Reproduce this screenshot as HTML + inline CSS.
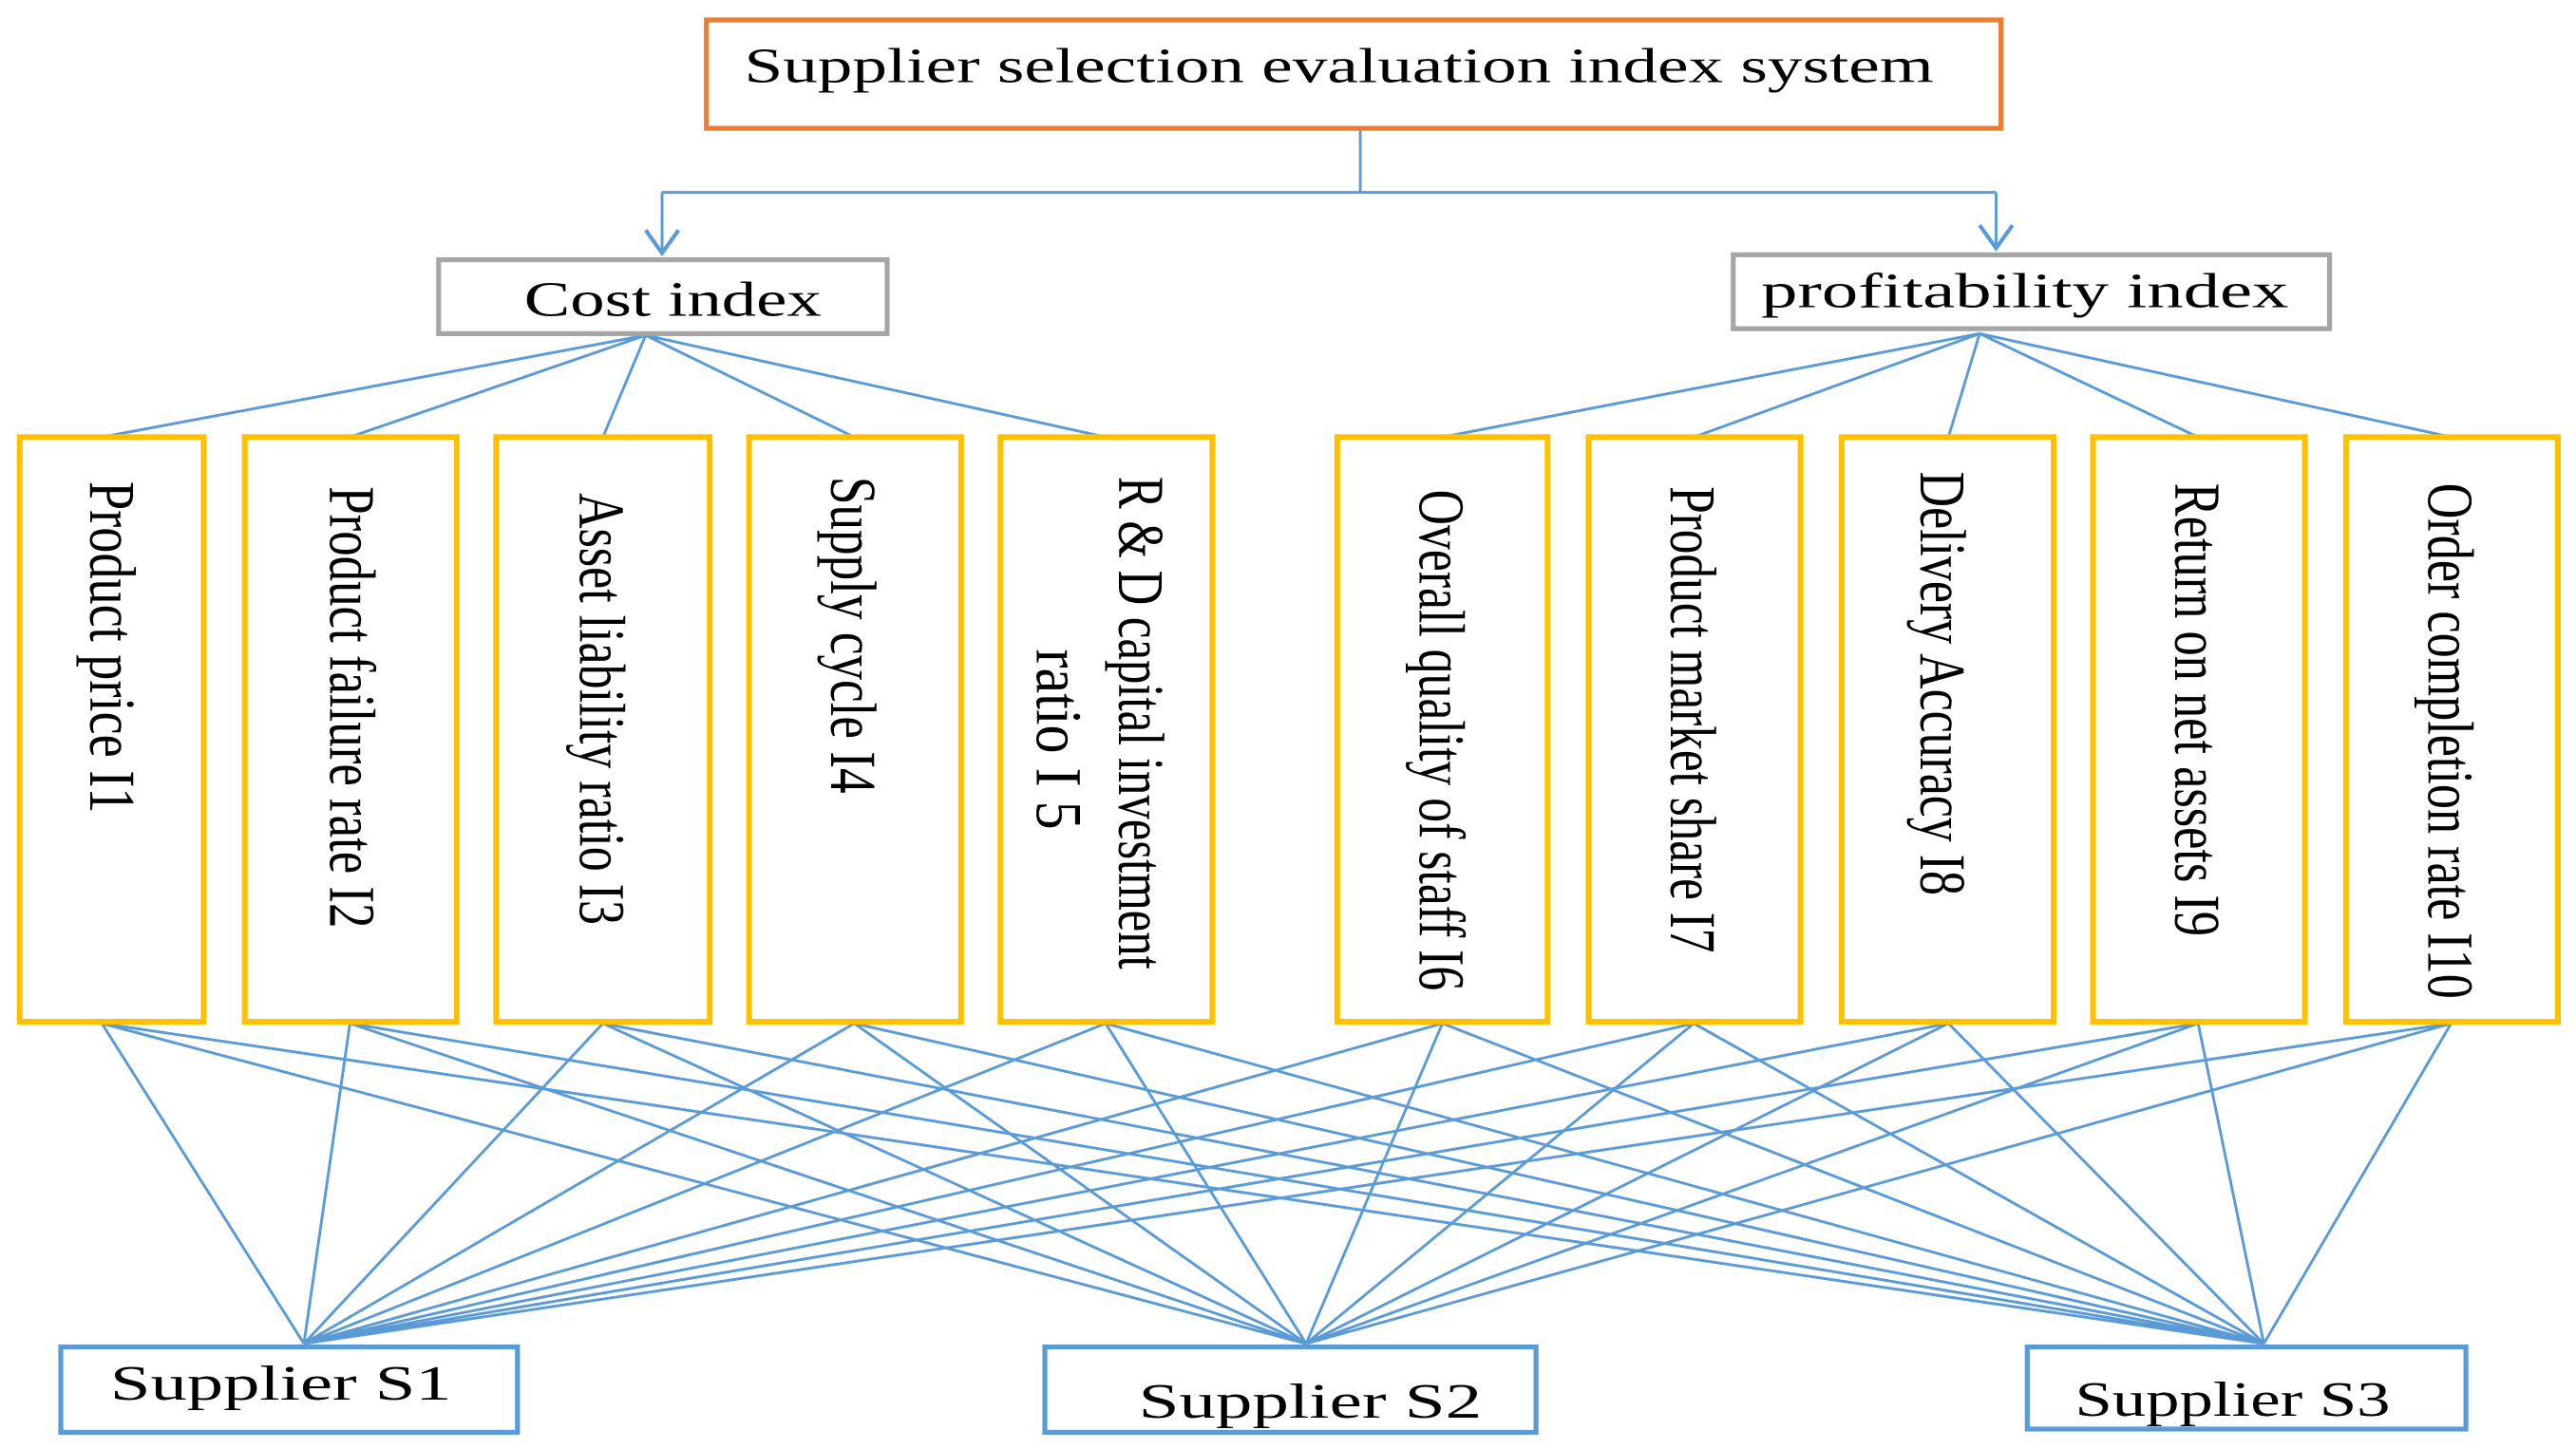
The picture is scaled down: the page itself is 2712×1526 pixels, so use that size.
<!DOCTYPE html>
<html><head><meta charset="utf-8"><style>html,body{margin:0;padding:0;background:#fff}svg{display:block}</style></head>
<body>
<svg width="2712" height="1526" viewBox="0 0 1568 882" xmlns="http://www.w3.org/2000/svg" font-family="'Liberation Serif', serif" fill="#000">
<rect x="0" y="0" width="1568" height="882" fill="#fff"/>
<g stroke="#5B9BD5" stroke-width="1.7" fill="none">
<path d="M828 78V117M403 117H1215M403 117V154M1215 117V151"/>
<path d="M393 140 403 154 413 140M1205 137 1215 151 1225 137" stroke-width="2.4"/>
<path d="M393 204L62 266M393 204L213 266M393 204L367 266M393 204L520 266M393 204L673 266"/>
<path d="M1205 203L878 266M1205 203L1031 266M1205 203L1186 266M1205 203L1338 266M1205 203L1492 266"/>
<g id="f">
<path d="M62 623L185 818M213 623L185 818M367 623L185 818M520 623L185 818M673 623L185 818M878 623L185 818M1031 623L185 818M1186 623L185 818M1338 623L185 818M1492 623L185 818"/>
<path d="M62 623L795 818M213 623L795 818M367 623L795 818M520 623L795 818M673 623L795 818M878 623L795 818M1031 623L795 818M1186 623L795 818M1338 623L795 818M1492 623L795 818"/>
<path d="M62 623L1378 818M213 623L1378 818M367 623L1378 818M520 623L1378 818M673 623L1378 818M878 623L1378 818M1031 623L1378 818M1186 623L1378 818M1338 623L1378 818M1492 623L1378 818"/>
</g>
</g>
<rect x="430" y="12" width="788" height="66" fill="#fff" stroke="#ED7D31" stroke-width="3"/>
<text x="453" y="50" font-size="30" textLength="724" lengthAdjust="spacingAndGlyphs">Supplier selection evaluation index system</text>
<rect x="267" y="158" width="273" height="45" fill="#fff" stroke="#A5A5A5" stroke-width="3"/>
<text x="319" y="192" font-size="30" textLength="181" lengthAdjust="spacingAndGlyphs">Cost index</text>
<rect x="1055" y="155" width="363" height="45" fill="#fff" stroke="#A5A5A5" stroke-width="3"/>
<text x="1072" y="187" font-size="30" textLength="321" lengthAdjust="spacingAndGlyphs">profitability  index</text>
<g fill="#fff" stroke="#FFC000" stroke-width="3.5">
<rect x="12" y="266" width="112" height="356"/><rect x="149" y="266" width="129" height="356"/>
<rect x="302" y="266" width="130" height="356"/><rect x="456" y="266" width="129" height="356"/>
<rect x="609" y="266" width="129" height="356"/><rect x="814" y="266" width="128" height="356"/>
<rect x="967" y="266" width="129" height="356"/><rect x="1121" y="266" width="129" height="356"/>
<rect x="1274" y="266" width="129" height="356"/><rect x="1428" y="266" width="129" height="356"/>
</g>
<g font-size="40" lengthAdjust="spacingAndGlyphs">
<text transform="translate(55 293) rotate(90)" textLength="202" lengthAdjust="spacingAndGlyphs">Product price  I1</text>
<text transform="translate(201 296) rotate(90)" textLength="269" lengthAdjust="spacingAndGlyphs">Product failure rate  I2</text>
<text transform="translate(353 300) rotate(90)" textLength="263" lengthAdjust="spacingAndGlyphs">Asset liability ratio  I3</text>
<text transform="translate(506 290) rotate(90)" textLength="193" lengthAdjust="spacingAndGlyphs">Supply cycle  I4</text>
<text transform="translate(681 290) rotate(90)" textLength="300" lengthAdjust="spacingAndGlyphs">R &amp; D capital investment</text>
<text transform="translate(631 395) rotate(90)" textLength="110" lengthAdjust="spacingAndGlyphs">ratio  I 5</text>
<text transform="translate(864 298) rotate(90)" textLength="305" lengthAdjust="spacingAndGlyphs">Overall quality of staff I6</text>
<text transform="translate(1017 296) rotate(90)" textLength="284" lengthAdjust="spacingAndGlyphs">Product market share I7</text>
<text transform="translate(1169 287) rotate(90)" textLength="258" lengthAdjust="spacingAndGlyphs">Delivery Accuracy  I8</text>
<text transform="translate(1324 294) rotate(90)" textLength="276" lengthAdjust="spacingAndGlyphs">Return on net assets I9</text>
<text transform="translate(1478 294) rotate(90)" textLength="314" lengthAdjust="spacingAndGlyphs">Order completion rate  I10</text>
</g>
<g fill="#fff" stroke="#5B9BD5" stroke-width="3">
<rect x="37" y="820" width="278" height="52"/><rect x="636" y="820" width="299" height="52"/><rect x="1234" y="820" width="267" height="50"/>
</g>
<text x="67" y="852" font-size="30" textLength="208" lengthAdjust="spacingAndGlyphs">Supplier  S1</text>
<text x="693" y="863" font-size="30" textLength="209" lengthAdjust="spacingAndGlyphs">Supplier  S2</text>
<text x="1263" y="862" font-size="30" textLength="192" lengthAdjust="spacingAndGlyphs">Supplier S3</text>
</svg>
</body></html>
